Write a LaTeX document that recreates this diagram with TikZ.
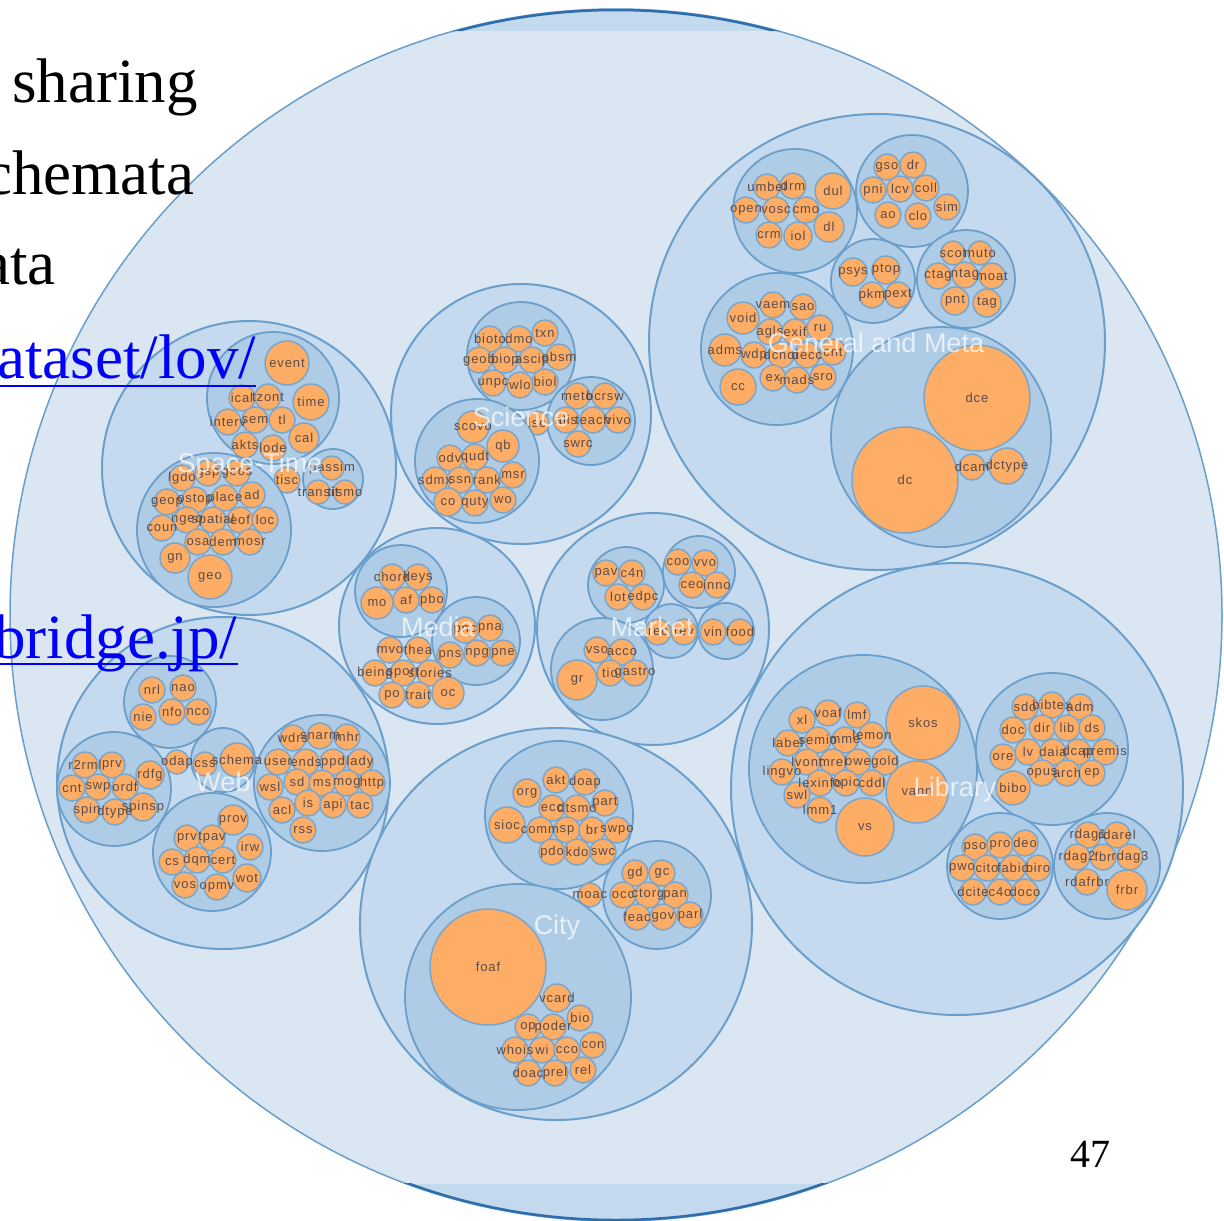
\documentclass[tikz,border=0pt]{standalone}
\usepackage{fontspec}
\setmainfont{Liberation Serif}
\newfontfamily\sansf{Liberation Sans}
\newfontfamily\leaffont[LetterSpace=7]{Liberation Sans}
\definecolor{rootfill}{HTML}{DAE7F3}
\definecolor{bandfill}{HTML}{C3D9ED}
\definecolor{catfill}{HTML}{C5DAEE}
\definecolor{grpfill}{HTML}{AFCCE6}
\definecolor{strokeblue}{HTML}{6A9ECB}
\definecolor{darkedge}{HTML}{2F6EAA}
\definecolor{leaffill}{HTML}{FDAD65}
\definecolor{leafstroke}{HTML}{7CA5C8}
\definecolor{leaftext}{HTML}{5A4C4C}
\definecolor{linkblue}{HTML}{0000FF}
\tikzset{
  catc/.style={fill=catfill, draw=strokeblue, line width=2pt},
  grpc/.style={fill=grpfill, draw=strokeblue, line width=1.8pt},
  leafc/.style={fill=leaffill, draw=leafstroke, line width=1.5pt},
  leaft/.style={font=\leaffont\fontsize{13}{13}\selectfont, text=leaftext, inner sep=0pt},
  catt/.style={font=\sansf\fontsize{27}{27}\selectfont, text=white, text opacity=0.7, inner sep=0pt},
  slidet/.style={font=\fontsize{63}{70}\selectfont, text=black, inner sep=0pt, anchor=base west},
  linkt/.style={slidet, text=linkblue},
  ul/.style={draw=linkblue, line width=2.6pt}
}
\makeatletter
\def\alllabels{}
\newcommand\lf[4]{%
  \path[leafc] (#1,#2) circle[radius=#3pt];
  \g@addto@macro\alllabels{\node[leaft] (lf#1x#2) at (#1,#2) {#4};}}
\makeatother
\newcommand\grp[3]{\path[grpc] (#1,#2) circle[radius=#3pt];}
\newcommand\cat[3]{\path[catc] (#1,#2) circle[radius=#3pt];}
\begin{document}
\begin{tikzpicture}[x=1pt,y=-1pt]
\useasboundingbox (0,0) rectangle (1224,1221);
\fill[white] (0,0) rectangle (1224,1221);
% outer (root) circle
\fill[bandfill] (616,615) circle[radius=606pt];
\begin{scope}
  \clip (0,31) rectangle (1224,1183);
  \fill[rootfill] (616,615) circle[radius=606pt];
\end{scope}
\draw[strokeblue, line width=1.5pt] (616,615) circle[radius=606pt];
\begin{scope}
  \clip (0,0) rectangle (1224,31) (0,1183) rectangle (1224,1221);
  \draw[darkedge, line width=2.5pt] (616,615) circle[radius=605pt];
\end{scope}

% ===== General and Meta =====
\cat{877}{342}{228}
\grp{795}{211}{62}
\lf{767}{187}{13}{umbel}\lf{793}{186}{13}{drm}\lf{833}{191}{18}{dul}
\lf{746}{210}{13}{open}\lf{776}{210}{13}{vosc}\lf{806}{210}{13}{cmo}
\lf{829}{227}{15}{dl}\lf{769}{235}{13}{crm}\lf{798}{236}{14}{iol}
\grp{912}{191}{56}
\lf{887}{167}{13}{gso}\lf{913}{165}{13}{dr}\lf{873}{190}{13}{pni}\lf{900}{189}{13}{lcv}
\lf{926}{188}{13}{coll}\lf{947}{207}{13}{sim}\lf{888}{215}{13}{ao}\lf{918}{216}{13}{clo}
\grp{873}{281}{42}
\lf{853}{272}{14}{psys}\lf{886}{270}{14}{ptop}\lf{872}{295}{13}{pkm}\lf{898}{295}{13}{pext}
\grp{966}{279}{49}
\lf{953}{253}{12}{scot}\lf{980}{253}{12}{muto}\lf{938}{276}{13}{ctag}\lf{965}{275}{13}{ntag}
\lf{992}{276}{13}{moat}\lf{955}{301}{14}{pnt}\lf{987}{303}{14}{tag}
\grp{777}{349}{76}
\lf{743}{318}{16}{void}\lf{773}{305}{13}{vaem}\lf{803}{307}{13}{sao}
\lf{770}{332}{13}{agls}\lf{795}{332}{13}{exif}\lf{820}{328}{13}{ru}
\lf{725}{350}{16}{adms}\lf{754}{355}{13}{wdp}\lf{781}{355}{13}{dcndl}\lf{807}{355}{13}{decc}\lf{833}{352}{13}{cnt}
\lf{738}{387}{18}{cc}\lf{773}{378}{13}{ex}\lf{797}{380}{13}{mads}\lf{823}{377}{13}{sro}
\grp{941}{437}{110}
\lf{977}{398}{53}{dce}\lf{905}{480}{53}{dc}\lf{972}{467}{13}{dcam}\lf{1007}{466}{18}{dctype}

% ===== Science =====
\cat{521}{414}{130}
\grp{521}{356}{54}
\lf{490}{339}{13}{bioto}\lf{519}{339}{13}{dmo}\lf{545}{333}{13}{txn}
\lf{479}{360}{13}{geob}\lf{505}{360}{13}{biop}\lf{532}{360}{13}{ascip}\lf{559}{357}{13}{obsm}
\lf{493}{383}{13}{unpc}\lf{520}{385}{13}{wlo}\lf{545}{382}{13}{biol}
\grp{591}{421}{44}
\lf{577}{396}{13}{meto}\lf{605}{396}{13}{bcrsw}\lf{566}{420}{13}{alis}\lf{593}{420}{13}{teach}
\lf{618}{420}{13}{vivo}\lf{578}{444}{13}{swrc}
\lf{537}{423}{12}{lsc}
\grp{477}{461}{62}
\lf{473}{427}{16}{scovo}\lf{503}{446}{16}{qb}\lf{450}{458}{13}{odv}\lf{475}{457}{13}{qudt}
\lf{513}{475}{13}{msr}\lf{435}{480}{13}{sdmx}\lf{460}{480}{13}{ssn}\lf{487}{480}{13}{rank}
\lf{448}{502}{14}{co}\lf{475}{503}{13}{quty}\lf{503}{500}{13}{wo}

% ===== Space-Time =====
\cat{249}{468}{147}
\grp{273}{398}{66}
\lf{287}{363}{22}{event}\lf{242}{398}{13}{ical}\lf{268}{397}{13}{tzont}\lf{311}{402}{18}{time}
\lf{228}{422}{13}{interv}\lf{255}{420}{13}{sem}\lf{282}{420}{13}{tl}\lf{304}{438}{15}{cal}
\lf{245}{445}{13}{akts}\lf{273}{448}{13}{lode}
\grp{333}{479}{30}
\lf{332}{468}{12}{passim}\lf{318}{492}{12}{transit}\lf{345}{492}{12}{tismo}
\lf{287}{480}{13}{tisc}
\grp{214}{530}{77}
\lf{182}{478}{13}{lgdo}\lf{208}{473}{13}{gsp}\lf{237}{473}{13}{geos}\lf{252}{495}{13}{ad}
\lf{167}{502}{13}{geop}\lf{195}{500}{13}{ostop}\lf{225}{498}{13}{place}
\lf{162}{528}{13}{coun}\lf{187}{520}{13}{ngeo}\lf{213}{520}{13}{spatial}\lf{240}{520}{13}{eof}\lf{265}{520}{13}{loc}
\lf{198}{542}{13}{osa}\lf{223}{542}{13}{dem}\lf{250}{542}{13}{mosr}
\lf{175}{558}{15}{gn}\lf{210}{577}{22}{geo}

% ===== Media =====
\cat{437}{626}{98}
\grp{401}{591}{46}
\lf{392}{577}{13}{chord}\lf{418}{577}{13}{keys}\lf{377}{603}{16}{mo}\lf{406}{600}{13}{af}\lf{432}{600}{13}{pbo}
\grp{476}{641}{44}
\lf{465}{630}{13}{pnc}\lf{490}{628}{13}{pna}\lf{450}{655}{13}{pns}\lf{477}{653}{13}{npg}\lf{503}{653}{13}{pne}
\lf{390}{650}{13}{mvo}\lf{418}{650}{13}{thea}
\lf{375}{673}{13}{being}\lf{403}{673}{13}{sport}\lf{430}{673}{13}{stories}
\lf{392}{695}{13}{po}\lf{418}{695}{13}{trait}\lf{448}{693}{16}{oc}

% ===== Market =====
\cat{653}{629}{116}
\grp{626}{585}{38}
\lf{606}{573}{13}{pav}\lf{632}{573}{13}{c4n}\lf{618}{597}{13}{lot}\lf{643}{597}{13}{edpc}
\grp{699}{572}{36}
\lf{678}{562}{13}{coo}\lf{705}{563}{13}{vvo}\lf{692}{585}{13}{ceo}\lf{717}{585}{13}{inno}
\grp{671}{631}{27}
\lf{658}{632}{13}{rec}\lf{684}{632}{13}{rev}
\grp{726}{631}{28}
\lf{713}{632}{13}{vin}\lf{740}{632}{13}{food}
\grp{602}{669}{51}
\lf{597}{650}{13}{vso}\lf{622}{652}{13}{acco}\lf{577}{680}{20}{gr}\lf{610}{673}{13}{tio}\lf{635}{673}{13}{gastro}

% ===== Web =====
\cat{223}{783}{166}
\grp{170}{702}{46}
\lf{152}{690}{13}{nrl}\lf{183}{688}{13}{nao}\lf{143}{717}{13}{nie}\lf{172}{712}{13}{nfo}\lf{198}{712}{13}{nco}
\grp{114}{789}{57}
\lf{85}{765}{13}{r2rml}\lf{112}{765}{13}{prv}\lf{150}{775}{14}{rdfg}
\lf{72}{788}{13}{cnt}\lf{98}{787}{13}{swp}\lf{125}{787}{13}{ordf}
\lf{87}{810}{13}{spin}\lf{115}{812}{13}{dtype}\lf{143}{807}{14}{spinsp}
\grp{223}{760}{32}
\lf{205}{764}{12}{css}\lf{237}{760}{17}{schema}
\lf{177}{762}{12}{odap}
\grp{322}{783}{68}
\lf{293}{738}{13}{wdrs}\lf{320}{736}{13}{snarm}\lf{347}{737}{13}{mhr}
\lf{278}{762}{13}{user}\lf{306}{762}{13}{ends}\lf{333}{762}{13}{ppd}\lf{360}{762}{13}{lady}
\lf{270}{787}{13}{wsl}\lf{297}{782}{13}{sd}\lf{322}{783}{13}{ms}\lf{347}{783}{13}{mog}\lf{372}{783}{13}{http}
\lf{282}{810}{13}{acl}\lf{308}{803}{13}{is}\lf{333}{805}{13}{api}\lf{360}{805}{13}{tac}
\lf{303}{830}{13}{rss}
\grp{212}{852}{59}
\lf{233}{820}{15}{prov}\lf{187}{838}{13}{prv}\lf{212}{838}{13}{tpav}\lf{250}{847}{13}{irw}
\lf{172}{862}{13}{cs}\lf{197}{860}{13}{dqm}\lf{223}{860}{13}{cert}\lf{247}{878}{14}{wot}
\lf{185}{885}{13}{vos}\lf{217}{887}{13}{opmv}

% ===== City =====
\cat{556}{924}{196}
\grp{559}{815}{74}
\lf{556}{780}{13}{akt}\lf{585}{782}{13}{doap}\lf{527}{793}{14}{org}
\lf{552}{808}{13}{ecc}\lf{577}{808}{13}{dtsmo}\lf{605}{803}{13}{part}
\lf{507}{825}{18}{sioc}\lf{540}{830}{13}{comm}\lf{567}{830}{13}{sp}\lf{592}{830}{13}{br}\lf{617}{830}{13}{swpo}
\lf{552}{852}{13}{pdo}\lf{577}{852}{13}{kdo}\lf{603}{852}{13}{swc}
\grp{657}{895}{54}
\lf{635}{873}{13}{gd}\lf{662}{873}{13}{gc}\lf{623}{895}{13}{occ}\lf{648}{895}{13}{ctorg}\lf{675}{895}{13}{pan}
\lf{637}{917}{13}{feac}\lf{663}{917}{13}{gov}\lf{690}{915}{13}{parl}
\lf{590}{895}{12}{moac}
\grp{518}{997}{113}
\lf{488}{967}{58}{foaf}\lf{557}{998}{14}{vcard}\lf{580}{1018}{13}{bio}
\lf{528}{1027}{13}{op}\lf{553}{1027}{13}{poder}\lf{593}{1045}{13}{con}
\lf{515}{1050}{13}{whois}\lf{542}{1050}{13}{wi}\lf{567}{1050}{13}{cco}
\lf{528}{1073}{13}{doac}\lf{555}{1073}{13}{prel}\lf{583}{1070}{13}{rel}

% ===== Library =====
\cat{957}{789}{226}
\grp{863}{769}{114}
\lf{923}{723}{37}{skos}\lf{917}{792}{31}{vann}\lf{865}{827}{29}{vs}
\lf{802}{720}{13}{xl}\lf{828}{713}{13}{voaf}\lf{857}{715}{13}{lmf}
\lf{788}{743}{13}{label}\lf{818}{740}{13}{semio}\lf{845}{740}{13}{mme}\lf{872}{735}{13}{lemon}
\lf{807}{762}{13}{lvont}\lf{833}{762}{13}{mrel}\lf{858}{762}{13}{owe}\lf{885}{762}{13}{gold}
\lf{782}{772}{13}{lingvo}\lf{820}{783}{13}{lexinfo}\lf{846}{783}{13}{opic}\lf{872}{783}{13}{cddl}
\lf{797}{795}{13}{swl}\lf{820}{810}{13}{lmm1}
\grp{1052}{749}{76}
\lf{1025}{707}{13}{sdo}\lf{1052}{705}{13}{bibtex}\lf{1080}{707}{13}{adm}
\lf{1013}{730}{13}{doc}\lf{1042}{728}{13}{dir}\lf{1067}{728}{13}{lib}\lf{1092}{728}{13}{ds}
\lf{1003}{757}{13}{ore}\lf{1028}{752}{13}{lv}\lf{1053}{752}{13}{daia}\lf{1078}{752}{13}{dcap}\lf{1105}{752}{13}{premis}
\lf{1042}{773}{13}{opus}\lf{1067}{773}{13}{arch}\lf{1092}{773}{13}{ep}\lf{1013}{788}{17}{bibo}
\grp{1000}{866}{53}
\lf{975}{847}{13}{pso}\lf{1000}{845}{13}{pro}\lf{1025}{843}{13}{deo}
\lf{962}{868}{13}{pwo}\lf{987}{868}{13}{cito}\lf{1013}{868}{13}{fabio}\lf{1038}{868}{13}{biro}
\lf{973}{892}{13}{dcite}\lf{1000}{892}{13}{c4o}\lf{1025}{892}{13}{doco}
\grp{1107}{866}{53}
\lf{1088}{835}{13}{rdag1}\lf{1117}{835}{13}{rdarel}
\lf{1077}{857}{13}{rdag2}\lf{1103}{857}{13}{fbr}\lf{1130}{857}{13}{rdag3}
\lf{1087}{882}{13}{rdafrbr}\lf{1127}{890}{20}{frbr}

% ===== leaf labels, category labels and slide text =====
\alllabels
\node[catt] (lgm) at (876,343) {General and Meta};
\node[catt] (lsci) at (521,417) {Science};
\node[catt] (lst) at (250,466) {Space-Time};
\node[catt] (lmed) at (438,627) {Media};
\node[catt] (lmkt) at (652,627) {Market};
\node[catt] (lweb) at (223,782) {Web};
\node[catt] (lcity) at (557,928) {City};
\node[catt] (llib) at (955,790) {Library};
\node[slidet] (t1) at (12,102) {sharing};
\node[slidet] (t2) at (-16,194) {chemata};
\node[slidet] (t3) at (-18,284) {ata};
\node[linkt] (t4) at (-3,378) {ataset/lov/};
\node[linkt] (t5) at (-6,658) {bridge.jp/};
\node[slidet, font=\fontsize{40}{44}\selectfont] (t6) at (1070,1167) {47};
\draw[ul] ([yshift=-8pt]t4.base west) -- ([yshift=-8pt]t4.base east);
\draw[ul] ([yshift=-6pt]t5.base west) -- ([yshift=-6pt]t5.base east);
\end{tikzpicture}
\end{document}
